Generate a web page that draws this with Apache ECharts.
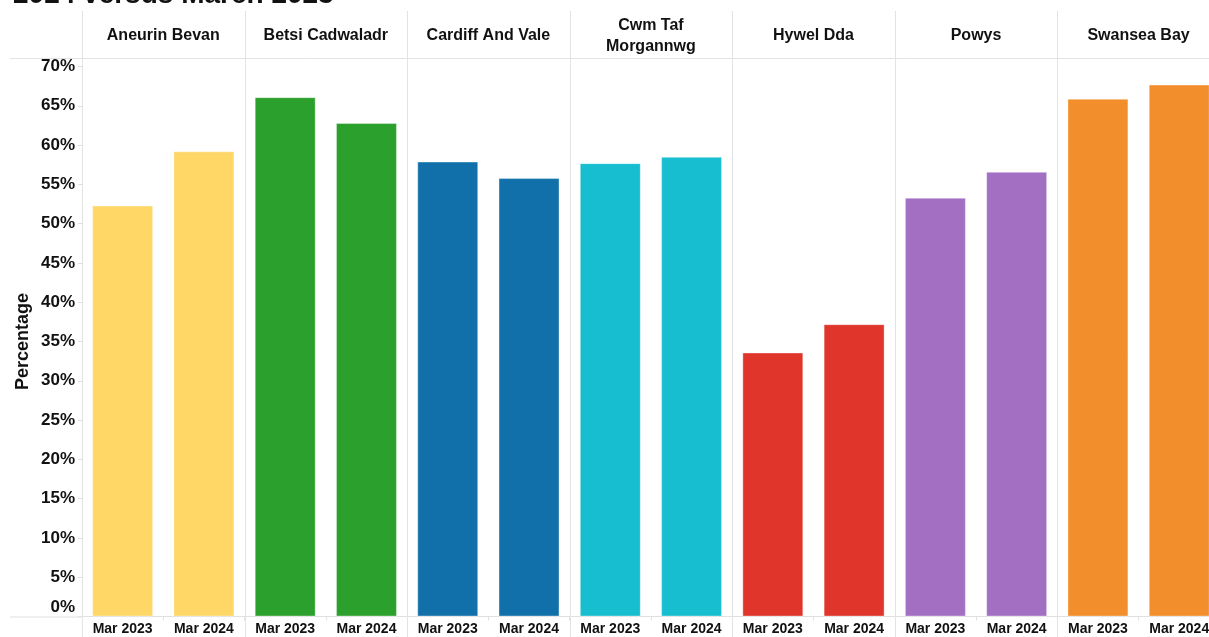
<!DOCTYPE html>
<html>
<head>
<meta charset="utf-8">
<script src="https://cdn.jsdelivr.net/npm/echarts@6/dist/echarts.min.js"></script>
<style>
html,body{margin:0;padding:0;background:#fff;}
#chart{width:1209px;height:637px;}
</style>
</head>
<body>
<div id="chart"></div>
<script>
const boards = ['Aneurin Bevan','Betsi Cadwaladr','Cardiff And Vale','Cwm Taf\nMorgannwg','Hywel Dda','Powys','Swansea Bay'];
const periods = ['Mar 2023','Mar 2024'];
const mar2023 = [52.3, 66.1, 57.9, 57.7, 33.6, 53.3, 65.9];
const mar2024 = [59.2, 62.8, 55.8, 58.5, 37.2, 56.6, 67.7];
const boardColors = ['#FED766','#2CA02C','#1170AA','#17BECF','#E0352A','#A36FC2','#F28E2B'];
const yTicksMin = 0, yTicksMax = 70, yTickStep = 5;

const FONT = 'Liberation Sans, Arial, sans-serif';
const panelLeft = 82, panelW = 162.55, plotTop = 66.5, plotBottom = 616.5, H = 637, W = 1209;

const grids = [], xAxes = [], yAxes = [], series = [];
boards.forEach((b, i) => {
  grids.push({left: panelLeft + i * panelW, width: panelW, top: plotTop, height: plotBottom - plotTop, containLabel: false, outerBoundsMode: 'none'});
  xAxes.push({
    type: 'category', gridIndex: i, data: periods, position: 'bottom',
    axisLine: {show: true, lineStyle: {color: '#e0e0e0'}},
    axisTick: {show: true, length: 4, lineStyle: {color: '#e0e0e0'}},
    axisLabel: {fontFamily: FONT, fontSize: 14, fontWeight: 'bold', color: '#111', margin: 6, interval: 0}
  });
  xAxes.push({
    type: 'category', gridIndex: i, data: [b], position: 'top', offset: plotTop - 58,
    axisLine: {show: false}, axisTick: {show: false},
    axisLabel: {fontFamily: FONT, fontSize: 16, fontWeight: 'bold', color: '#111', margin: 22, verticalAlign: 'middle', lineHeight: 21, interval: 0}
  });
  yAxes.push({
    type: 'value', gridIndex: i, min: yTicksMin, max: yTicksMax, interval: yTickStep,
    name: i === 0 ? 'Percentage' : '', nameLocation: 'middle', nameGap: 50,
    nameTextStyle: {fontFamily: FONT, fontSize: 18, fontWeight: 'bold', color: '#111'},
    axisLine: {show: i === 0, lineStyle: {color: '#e0e0e0'}},
    axisTick: {show: i === 0, length: 4, lineStyle: {color: '#e0e0e0'}},
    splitLine: {show: false},
    axisLabel: {
      show: i === 0, fontFamily: FONT, fontSize: 17, fontWeight: 'bold', color: '#111', margin: 7,
      formatter: v => v === 0 ? '{z|0%}' : v + '%',
      rich: {z: {fontFamily: FONT, fontSize: 17, fontWeight: 'bold', color: '#111', padding: [0, 0, 18, 0]}}
    }
  });
  series.push({
    type: 'bar', xAxisIndex: i * 2, yAxisIndex: i, barWidth: '75%',
    data: [mar2023[i], mar2024[i]],
    itemStyle: {color: boardColors[i], borderColor: 'rgba(255,255,255,0.35)', borderWidth: 1},
    silent: true
  });
});

const lines = [];
for (let i = 0; i <= boards.length; i++) {
  const x = Math.round(panelLeft + i * panelW) + 0.5;
  lines.push({type: 'line', shape: {x1: x, y1: 11, x2: x, y2: H}, style: {stroke: '#e3e3e3', lineWidth: 1}, z: 1});
}
lines.push({type: 'line', shape: {x1: 10, y1: 58.5, x2: W, y2: 58.5}, style: {stroke: '#e3e3e3', lineWidth: 1}, z: 1});
lines.push({type: 'line', shape: {x1: 10, y1: plotBottom + 0.5, x2: panelLeft, y2: plotBottom + 0.5}, style: {stroke: '#e0e0e0', lineWidth: 1}, z: 1});

const chart = echarts.init(document.getElementById('chart'), null, {renderer: 'canvas'});
chart.setOption({
  animation: false,
  backgroundColor: '#fff',
  title: {text: '2024 versus March 2023', left: 8, top: -24, textStyle: {fontFamily: FONT, fontSize: 28, fontWeight: 'bold', color: '#111'}},
  grid: grids, xAxis: xAxes, yAxis: yAxes, series: series,
  graphic: lines
});
</script>
</body>
</html>
